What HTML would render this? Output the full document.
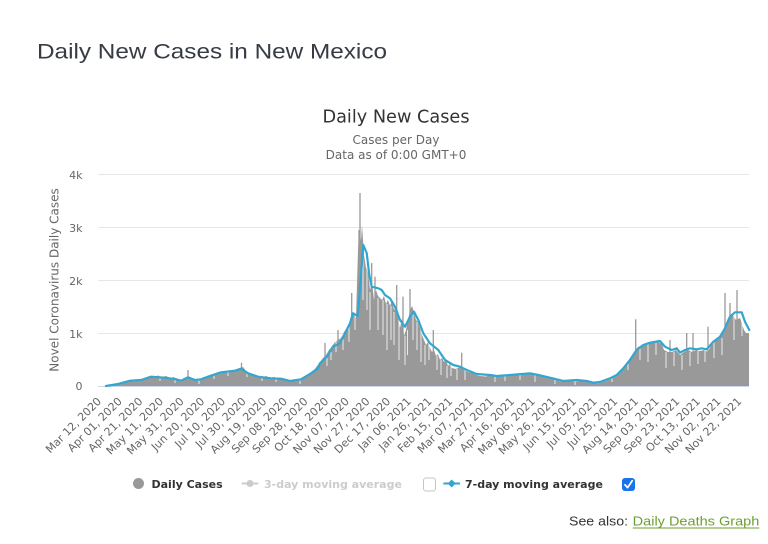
<!DOCTYPE html>
<html><head><meta charset="utf-8"><style>
html,body{margin:0;padding:0;background:#fff;width:768px;height:544px;overflow:hidden}
svg{display:block}
</style></head><body>
<svg width="768" height="544" viewBox="0 0 768 544" xmlns="http://www.w3.org/2000/svg">
<rect width="768" height="544" fill="#fff"/>
<text x="37" y="58.5" font-family="Liberation Sans, Arial, sans-serif" font-size="21.5" fill="#363b44" textLength="350" lengthAdjust="spacingAndGlyphs">Daily New Cases in New Mexico</text>

<g font-family="DejaVu Sans, Verdana, sans-serif" text-anchor="middle">
<text x="396" y="122.5" font-size="17.7" fill="#333">Daily New Cases</text>
<text x="396" y="144" font-size="12" fill="#666">Cases per Day</text>
<text x="396" y="159" font-size="12" fill="#666">Data as of 0:00 GMT+0</text>
</g>

<!-- grid -->
<g stroke="#e6e6e6" stroke-width="1">
<line x1="98" y1="174.5" x2="749" y2="174.5"/>
<line x1="98" y1="227.5" x2="749" y2="227.5"/>
<line x1="98" y1="280.5" x2="749" y2="280.5"/>
<line x1="98" y1="333.5" x2="749" y2="333.5"/>
</g>

<!-- y labels -->
<g font-family="DejaVu Sans, Verdana, sans-serif" font-size="11" fill="#666" text-anchor="end">
<text x="82.5" y="179">4k</text>
<text x="82.5" y="232">3k</text>
<text x="82.5" y="285">2k</text>
<text x="82.5" y="338">1k</text>
<text x="82.5" y="390">0</text>
</g>
<text transform="translate(58.5,280) rotate(-90)" text-anchor="middle" font-family="DejaVu Sans, Verdana, sans-serif" font-size="12" fill="#666">Novel Coronavirus Daily Cases</text>

<!-- bars envelope -->
<polygon fill="#999" points="105,386 106,385 112,384.5 118,383 124,382 130,380 136,381 141,379 146,378 150,376 154,377 158,375.5 162,377 166,376 170,378 174,377 178,379 181,382 184,379 188,377 192,379 196,381 200,380 204,378 208,376 212,375 216,373 220,372 224,371.5 228,372 232,370.5 236,370 240,368 243,367 246,371 250,374 254,375 258,376 262,377.5 266,376 270,378 274,377 278,378.5 282,378 286,381 290,382 294,380 298,380.5 302,378 306,376 310,373 314,370 317,366 320,362 323,358 326,355 329,350 332,346 335,342 338,340 341,338 344,332 347,328 350,322 352,318 354,312 356,318 358,250 359,232 361,240 362,225 364,255 366,268 368,272 370,290 372,282 374,300 376,290 378,296 380,298 382,300 384,296 386,304 388,300 390,306 392,300 394,310 396,308 398,316 400,328 402,318 404,336 406,330 408,320 410,310 412,306 414,312 416,320 418,322 420,328 422,335 424,340 426,345 428,342 430,348 432,352 434,350 436,356 438,354 440,360 442,358 444,362 446,360 448,366 450,364 452,368 456,369 460,367 464,370 468,372 472,373 476,375 480,376 486,376.5 490,375 496,377 500,376 506,375.5 510,376 516,374.5 522,375 528,374 532,373.5 536,375 540,376 546,377 550,378 556,380 560,381.5 566,382 570,381 576,381.5 580,381 586,381.5 590,382.5 596,383.5 600,383 606,381 610,379.5 614,377 618,374 622,370 626,364 630,358 634,352 638,347 642,345 646,344 650,343 654,342.5 658,342 662,344 664,350 668,352 672,352 676,350 680,355 684,352 688,350 692,352 696,350 700,351 704,350 708,352 712,343 716,340 720,338 724,328 728,318 732,314 736,320 740,318 744,330 746,333 749,333 749,386"/>

<!-- spikes -->
<g stroke="#999" stroke-width="1.3">
<line x1="188" y1="386" x2="188" y2="370"/>
<line x1="241.5" y1="386" x2="241.5" y2="362.7"/>
<line x1="360" y1="386" x2="360" y2="193"/>
<line x1="359" y1="386" x2="359" y2="230"/>
<line x1="351.7" y1="386" x2="351.7" y2="293"/>
<line x1="338" y1="386" x2="338" y2="330"/>
<line x1="325" y1="386" x2="325" y2="343"/>
<line x1="371.7" y1="386" x2="371.7" y2="263"/>
<line x1="375" y1="386" x2="375" y2="276.7"/>
<line x1="396.7" y1="386" x2="396.7" y2="285"/>
<line x1="403" y1="386" x2="403" y2="296.7"/>
<line x1="410" y1="386" x2="410" y2="289"/>
<line x1="433.3" y1="386" x2="433.3" y2="330"/>
<line x1="461.7" y1="386" x2="461.7" y2="352.7"/>
<line x1="635.7" y1="386" x2="635.7" y2="319.3"/>
<line x1="670" y1="386" x2="670" y2="340"/>
<line x1="686.7" y1="386" x2="686.7" y2="333"/>
<line x1="693" y1="386" x2="693" y2="333"/>
<line x1="708" y1="386" x2="708" y2="326.7"/>
<line x1="725" y1="386" x2="725" y2="293"/>
<line x1="730" y1="386" x2="730" y2="303"/>
<line x1="737" y1="386" x2="737" y2="290"/>
</g>

<!-- white gaps -->
<g stroke="#fff" stroke-width="0.8">
<line x1="160" y1="376" x2="160" y2="381"/>
<line x1="175" y1="377" x2="175" y2="383"/>
<line x1="199" y1="379" x2="199" y2="384"/>
<line x1="214" y1="374" x2="214" y2="379"/>
<line x1="228" y1="371" x2="228" y2="376"/>
<line x1="247" y1="371" x2="247" y2="377"/>
<line x1="262" y1="376" x2="262" y2="381"/>
<line x1="276" y1="377" x2="276" y2="382"/>
<line x1="300" y1="379" x2="300" y2="384"/>
<line x1="327" y1="356" x2="327" y2="366"/>
<line x1="331" y1="347" x2="331" y2="360"/>
<line x1="336" y1="341" x2="336" y2="352"/>
<line x1="343" y1="334" x2="343" y2="350"/>
<line x1="349" y1="323" x2="349" y2="342"/>
<line x1="355" y1="314" x2="355" y2="330"/>
<line x1="363" y1="256" x2="363" y2="300"/>
<line x1="367" y1="270" x2="367" y2="310"/>
<line x1="370" y1="292" x2="370" y2="330"/>
<line x1="378" y1="298" x2="378" y2="330"/>
<line x1="383" y1="300" x2="383" y2="335"/>
<line x1="387" y1="304" x2="387" y2="350"/>
<line x1="391" y1="306" x2="391" y2="340"/>
<line x1="394" y1="312" x2="394" y2="345"/>
<line x1="399" y1="318" x2="399" y2="360"/>
<line x1="405" y1="336" x2="405" y2="365"/>
<line x1="407.5" y1="330" x2="407.5" y2="355"/>
<line x1="413" y1="312" x2="413" y2="340"/>
<line x1="417" y1="322" x2="417" y2="350"/>
<line x1="421" y1="330" x2="421" y2="362"/>
<line x1="425" y1="345" x2="425" y2="365"/>
<line x1="429" y1="342" x2="429" y2="360"/>
<line x1="437" y1="356" x2="437" y2="370"/>
<line x1="441" y1="360" x2="441" y2="375"/>
<line x1="447" y1="366" x2="447" y2="378"/>
<line x1="451" y1="364" x2="451" y2="376"/>
<line x1="457" y1="369" x2="457" y2="380"/>
<line x1="465" y1="370" x2="465" y2="380"/>
<line x1="495" y1="376" x2="495" y2="382"/>
<line x1="505" y1="375.5" x2="505" y2="381"/>
<line x1="520" y1="375" x2="520" y2="380"/>
<line x1="535" y1="375" x2="535" y2="382"/>
<line x1="555" y1="380" x2="555" y2="384"/>
<line x1="575" y1="381.5" x2="575" y2="385"/>
<line x1="612" y1="378" x2="612" y2="382"/>
<line x1="628" y1="361" x2="628" y2="370"/>
<line x1="640" y1="346" x2="640" y2="360"/>
<line x1="648" y1="344" x2="648" y2="362"/>
<line x1="656" y1="342" x2="656" y2="355"/>
<line x1="666" y1="352" x2="666" y2="368"/>
<line x1="674" y1="352" x2="674" y2="366"/>
<line x1="682" y1="355" x2="682" y2="370"/>
<line x1="690" y1="352" x2="690" y2="366"/>
<line x1="698" y1="350" x2="698" y2="364"/>
<line x1="705" y1="350" x2="705" y2="362"/>
<line x1="714" y1="342" x2="714" y2="358"/>
<line x1="722" y1="338" x2="722" y2="355"/>
<line x1="734" y1="314" x2="734" y2="340"/>
<line x1="742" y1="318" x2="742" y2="336"/>
</g>

<!-- axis line -->
<line x1="98" y1="386.5" x2="749" y2="386.5" stroke="#ccd6eb" stroke-width="1"/>

<!-- 7-day average -->
<polyline fill="none" stroke="#33a6cf" stroke-width="2.2" stroke-linejoin="round" stroke-linecap="round" points="106,386 118,384 130,380.7 141,380 151,376.7 165,377.7 176,379.3 181,380.7 188,377.3 195,380 201,379.3 208,376.7 221,372.3 235,370.7 241,368.7 248,373.3 258,376.7 271,378.3 281,378.7 290,381 301,379.3 311,373.3 318,368.3 320,363.3 327,356.7 333,346.7 340,343.3 345,333.3 350,323.3 353,313.3 357.7,316 360.7,280 363.3,245 366.7,253 369.3,275 371.7,286.7 378.3,288.3 381.7,290 385,295 390,298.3 395,306.7 400,320 405,326.7 410,316.7 414,311.7 418.3,320 423.3,333.3 430,343.3 438.3,350 445,360 453.3,365 460,366.7 466.7,370 476.7,374 490,375 496.7,376 510,375 530,373.3 538.3,375 550,377.7 563.3,381 576.7,380 586.7,381 593.3,382.7 600,382 610,378.3 616.7,375 623.3,368.3 630,360 636.7,350 643.3,345 650,342.7 660,341 665,346.7 671.7,350 676.7,348.3 680,352.7 685,350 690,348.3 696.7,349.3 701.7,348.3 706.7,349.3 713.3,341.7 720,336.7 725,328.3 730,316.7 735,312.3 741.7,312.3 745,321.7 749.3,330"/>

<!-- x labels -->
<g font-family="DejaVu Sans, Verdana, sans-serif" font-size="11" fill="#666" text-anchor="end">
<text transform="translate(102,402) rotate(-45)">Mar 12, 2020</text>
<text transform="translate(122.65,402) rotate(-45)">Apr 01, 2020</text>
<text transform="translate(143.3,402) rotate(-45)">Apr 21, 2020</text>
<text transform="translate(163.95,402) rotate(-45)">May 11, 2020</text>
<text transform="translate(184.6,402) rotate(-45)">May 31, 2020</text>
<text transform="translate(205.25,402) rotate(-45)">Jun 20, 2020</text>
<text transform="translate(225.9,402) rotate(-45)">Jul 10, 2020</text>
<text transform="translate(246.55,402) rotate(-45)">Jul 30, 2020</text>
<text transform="translate(267.2,402) rotate(-45)">Aug 19, 2020</text>
<text transform="translate(287.85,402) rotate(-45)">Sep 08, 2020</text>
<text transform="translate(308.5,402) rotate(-45)">Sep 28, 2020</text>
<text transform="translate(329.15,402) rotate(-45)">Oct 18, 2020</text>
<text transform="translate(349.8,402) rotate(-45)">Nov 07, 2020</text>
<text transform="translate(370.45,402) rotate(-45)">Nov 27, 2020</text>
<text transform="translate(391.1,402) rotate(-45)">Dec 17, 2020</text>
<text transform="translate(411.75,402) rotate(-45)">Jan 06, 2021</text>
<text transform="translate(432.4,402) rotate(-45)">Jan 26, 2021</text>
<text transform="translate(453.05,402) rotate(-45)">Feb 15, 2021</text>
<text transform="translate(473.7,402) rotate(-45)">Mar 07, 2021</text>
<text transform="translate(494.35,402) rotate(-45)">Mar 27, 2021</text>
<text transform="translate(515,402) rotate(-45)">Apr 16, 2021</text>
<text transform="translate(535.65,402) rotate(-45)">May 06, 2021</text>
<text transform="translate(556.3,402) rotate(-45)">May 26, 2021</text>
<text transform="translate(576.95,402) rotate(-45)">Jun 15, 2021</text>
<text transform="translate(597.6,402) rotate(-45)">Jul 05, 2021</text>
<text transform="translate(618.25,402) rotate(-45)">Jul 25, 2021</text>
<text transform="translate(638.9,402) rotate(-45)">Aug 14, 2021</text>
<text transform="translate(659.55,402) rotate(-45)">Sep 03, 2021</text>
<text transform="translate(680.2,402) rotate(-45)">Sep 23, 2021</text>
<text transform="translate(700.85,402) rotate(-45)">Oct 13, 2021</text>
<text transform="translate(721.5,402) rotate(-45)">Nov 02, 2021</text>
<text transform="translate(742.15,402) rotate(-45)">Nov 22, 2021</text>
</g>

<!-- legend -->
<circle cx="138.5" cy="483.5" r="5.5" fill="#999"/>
<g font-family="DejaVu Sans, Verdana, sans-serif" font-size="11" font-weight="bold">
<text x="151.5" y="488" fill="#333">Daily Cases</text>
<text x="264" y="488" fill="#cccccc">3-day moving average</text>
<text x="465" y="488" fill="#333">7-day moving average</text>
</g>
<line x1="241.7" y1="483.5" x2="258.3" y2="483.5" stroke="#cccccc" stroke-width="2"/>
<circle cx="250" cy="483.5" r="3.5" fill="#cccccc"/>
<rect x="423.5" y="478" width="12" height="13" rx="2.5" fill="#fff" stroke="#c4c4c4" stroke-width="1"/>
<line x1="443.3" y1="483.5" x2="460" y2="483.5" stroke="#33a6cf" stroke-width="2"/>
<path d="M451.7 479.5 L455.7 483.5 L451.7 487.5 L447.7 483.5 Z" fill="#33a6cf"/>
<rect x="622" y="478" width="13" height="13" rx="3" fill="#1a73e8"/>
<path d="M625 484.8 L627.6 487.6 L632.2 480.8" fill="none" stroke="#fff" stroke-width="1.8" stroke-linecap="round" stroke-linejoin="round"/>

<!-- see also -->
<text x="569" y="525.5" font-family="Liberation Sans, Arial, sans-serif" font-size="13" fill="#333" textLength="59" lengthAdjust="spacingAndGlyphs">See also:</text>
<text x="632.7" y="525.5" font-family="Liberation Sans, Arial, sans-serif" font-size="13" fill="#6c9f33" textLength="126.6" lengthAdjust="spacingAndGlyphs">Daily Deaths Graph</text>
<line x1="632.7" y1="528" x2="759.3" y2="528" stroke="#6c9f33" stroke-width="1"/>
</svg>
</body></html>
